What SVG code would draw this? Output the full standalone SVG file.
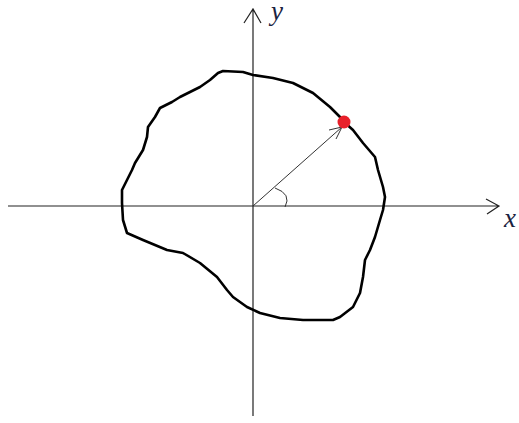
<svg xmlns="http://www.w3.org/2000/svg" width="519" height="423" viewBox="0 0 519 423">
<style>
.ax{stroke:#222;stroke-width:1.2;fill:none}
.lbl{font-family:"Liberation Serif",serif;font-style:italic;font-size:27px;fill:#1a2340}
</style>
<rect width="519" height="423" fill="#fff"/>
<g id="connectors">
<path class="ax" d="M8,206 H499 M486,199 L499,206 L487,214"/>
<path class="ax" d="M253,416 V9 M244,23 L253,9 L261,23"/>
<path d="M253,206 L342,127 M329,130 L342,127 L336,139" stroke="#333" stroke-width="1" fill="none"/>
<path d="M275,188 Q292,194 285,207" stroke="#333" stroke-width="1" fill="none"/>
</g>
<g id="curve">
<path d="M218,73 L223,71 L243,72 L253,75 L273,78 L293,83 L313,93 L330,107 L340,117 L344,122 L353,130 L363,143 L375,157 L378,170 L383,187 L385,197 L383,210 L380,220 L375,237 L370,250 L365,260 L363,277 L360,293 L353,307 L340,317 L333,320 L303,320 L280,318 L260,313 L247,307 L233,297 L227,290 L217,277 L200,263 L183,253 L167,250 L143,240 L127,233 L123,220 L122,203 L122,190 L127,180 L132,170 L135,163 L143,150 L147,137 L148,127 L155,117 L160,108 L172,102 L180,97 L190,92 L200,87 L210,80 Z" fill="none" stroke="#000" stroke-width="2.6" stroke-linejoin="round"/>
</g>
<g id="point"><circle cx="344" cy="122" r="6.5" fill="#e8202a"/></g>
<g id="labels">
<text class="lbl" x="271" y="20">y</text>
<text class="lbl" x="504" y="227">x</text>
</g>
</svg>
